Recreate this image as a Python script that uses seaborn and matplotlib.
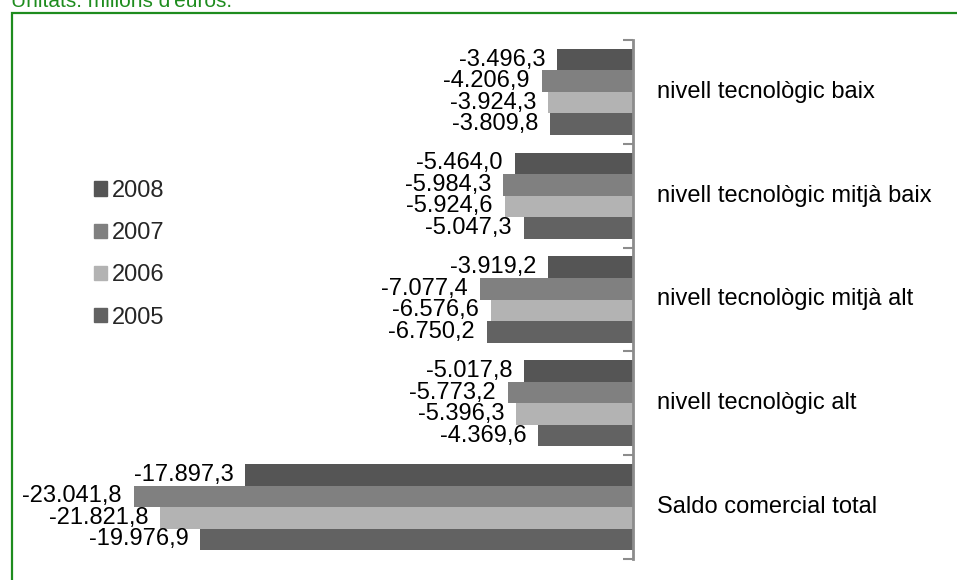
import matplotlib
matplotlib.use("Agg")
import matplotlib.pyplot as plt
import matplotlib.patches as mpatches
import seaborn as sns
import pandas as pd

categories = ["nivell tecnològic baix", "nivell tecnològic mitjà baix",
              "nivell tecnològic mitjà alt", "nivell tecnològic alt",
              "Saldo comercial total"]
years = ["2008", "2007", "2006", "2005"]
v2008 = [-3496.3, -5464.0, -3919.2, -5017.8, -17897.3]
v2007 = [-4206.9, -5984.3, -7077.4, -5773.2, -23041.8]
v2006 = [-3924.3, -5924.6, -6576.6, -5396.3, -21821.8]
v2005 = [-3809.8, -5047.3, -6750.2, -4369.6, -19976.9]
colors = ["#555555", "#808080", "#b3b3b3", "#626262"]

rows = []
for yr, vals in zip(years, [v2008, v2007, v2006, v2005]):
    for cat, v in zip(categories, vals):
        rows.append({"cat": cat, "year": yr, "value": v})
df = pd.DataFrame(rows)


def fmt(v):
    # catalan number format: -3.496,3
    s = f"{abs(v):,.1f}".replace(",", "X").replace(".", ",").replace("X", ".")
    return ("-" if v < 0 else "") + s


sns.set_style("white")
plt.rcParams["font.family"] = ["Liberation Sans", "DejaVu Sans"]
fs = 17

W, H = 957, 580
fig = plt.figure(figsize=(W / 100, H / 100), dpi=100)

# green frame and unit note (cut at the top like the original)
fig.patches.append(mpatches.Rectangle((12 / W, -0.05), 1.0, (H - 13) / H + 0.05,
                                      transform=fig.transFigure, fill=False,
                                      edgecolor="#1e8c1e", linewidth=1.6))
fig.text(11 / W, 1 - 7 / H, "Unitats: milions d'euros.", color="#1e8c1e",
         fontsize=15, va="baseline", ha="left")

ax = fig.add_axes([12 / W, (H - 559) / H, (633 - 12) / W, 519 / H])
sns.barplot(data=df, y="cat", x="value", hue="year", hue_order=years,
            order=categories, palette=colors, width=0.83, linewidth=0,
            saturation=1, ax=ax, legend=False)

ax.set_xlim(-28675, 0)
ax.set_ylim(4.5, -0.5)
ax.set_xlabel("")
ax.set_ylabel("")
ax.set_xticks([])

for sp in ["left", "top", "bottom"]:
    ax.spines[sp].set_visible(False)
ax.spines["right"].set_color("#8c8c8c")
ax.spines["right"].set_linewidth(2)
ax.yaxis.tick_right()
ax.set_yticks([i - 0.5 for i in range(6)])
ax.set_yticklabels([])
ax.tick_params(axis="y", direction="in", length=7, width=1.5, color="#8c8c8c")

for cont in ax.containers:
    for bar in cont:
        w = bar.get_width()
        yc = bar.get_y() + bar.get_height() / 2
        ax.annotate(fmt(w), (w, yc), xytext=(-12, 0), textcoords="offset pixels",
                    ha="right", va="center", fontsize=fs, color="black")

for i, cat in enumerate(categories):
    ax.annotate(cat, (1, i), xycoords=("axes fraction", "data"),
                xytext=(24, 0), textcoords="offset pixels",
                ha="left", va="center", fontsize=fs, color="black")

handles = [mpatches.Patch(color=c) for c in colors]
fig.legend(handles, years, loc="upper left", bbox_to_anchor=(82 / W, 1 - 168 / H),
           frameon=False, fontsize=fs, handlelength=0.55, handleheight=0.55,
           handletextpad=0.2, labelspacing=0.86, borderpad=0)

fig.savefig("out.png", dpi=100)
